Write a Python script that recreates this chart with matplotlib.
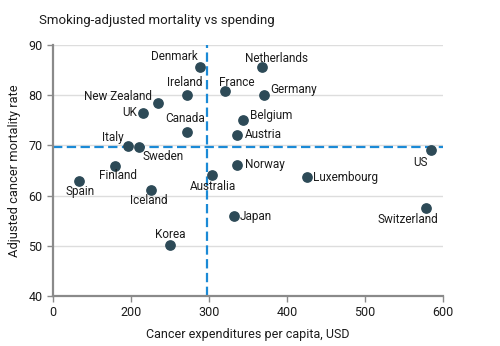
import numpy as np
import matplotlib
matplotlib.use("Agg")
import matplotlib.pyplot as plt

# data
countries = ["Denmark", "Ireland", "New Zealand", "UK", "Canada", "Italy",
             "Sweden", "Finland", "Spain", "Iceland", "Korea", "Australia",
             "Japan", "France", "Netherlands", "Germany", "Belgium", "Austria",
             "Norway", "Luxembourg", "US", "Switzerland"]
spending = [288, 272, 234, 216, 272, 192, 210, 159, 67, 225, 250, 304,
            332, 320, 368, 371, 343, 336, 336, 426, 584, 578]
mortality = [85.7, 80.1, 78.5, 76.5, 72.7, 69.9, 69.6, 65.9, 63.0, 61.2,
             50.1, 64.1, 55.9, 80.8, 85.6, 80.0, 75.1, 72.1, 66.1, 63.7,
             69.0, 57.5]
spend_ref = 297
mort_ref = 69.7
x_ticks = [0, 200, 300, 400, 500, 600]
y_ticks = [40, 50, 60, 70, 80, 90]

# label placement: (dx, dy) in pixels, horizontal alignment
label_pos = {
    "Denmark": (-2, 10, "right"), "Ireland": (-2, 12, "center"),
    "New Zealand": (-6, 6, "right"), "UK": (-6, 0, "right"),
    "Canada": (-2, 13, "center"), "Italy": (-4, 8, "right"),
    "Sweden": (4, -9, "left"), "Finland": (3, -10, "center"),
    "Spain": (1, -11, "center"), "Iceland": (-2, -11, "center"),
    "Korea": (0, 11, "center"), "Australia": (1, -11, "center"),
    "Japan": (6, 0, "left"), "France": (-6, 9, "left"),
    "Netherlands": (-17, 9, "left"), "Germany": (6, 6, "left"),
    "Belgium": (7, 4, "left"), "Austria": (8, 0, "left"),
    "Norway": (8, 0, "left"), "Luxembourg": (6, 0, "left"),
    "US": (-3, -12, "right"), "Switzerland": (12, -11, "right"),
}

plt.rcParams['font.family'] = ['Roboto', 'DejaVu Sans']
text_col = '#1c1c1c'
axis_col = '#8a8a8a'
blue = '#1b8ad6'


def fwd(x):
    # the axis squeezes 0-200 into the width of one 100-step
    x = np.asarray(x, dtype=float)
    return np.where(x < 200, x / 2.0, x - 100.0)


def inv(p):
    p = np.asarray(p, dtype=float)
    return np.where(p < 100, p * 2.0, p + 100.0)


fig = plt.figure(figsize=(5, 3.46), dpi=100)
ax = fig.add_axes([0.106, 0.1445, 0.78, 0.7255])
ax.set_xscale('function', functions=(fwd, inv))
ax.set_xlim(0, 600)
ax.set_ylim(40, 90)
ax.set_xticks(x_ticks)
ax.set_yticks(y_ticks)

for y in y_ticks[1:]:
    ax.axhline(y, color='#dddddd', lw=1, zorder=0)

ax.axvline(spend_ref, color=blue, lw=1.6, ls=(0, (4.2, 2)), zorder=1)
ax.axhline(mort_ref, color=blue, lw=1.6, ls=(0, (4.2, 2)), zorder=1)

ax.scatter(spending, mortality, s=45, color='#2d4a57', zorder=3,
           clip_on=False)

for name, x, y in zip(countries, spending, mortality):
    dx, dy, ha = label_pos[name]
    ax.annotate(name, (x, y), xytext=(dx, dy), textcoords='offset pixels',
                ha=ha, va='center', fontsize=8.5, color=text_col)

for side in ['top', 'right']:
    ax.spines[side].set_visible(False)
for side in ['left', 'bottom']:
    ax.spines[side].set_color(axis_col)
    ax.spines[side].set_linewidth(1.6)
ax.tick_params(colors=axis_col, labelcolor=text_col, labelsize=9,
               length=4, width=1)

ax.set_xlabel('Cancer expenditures per capita, USD', fontsize=9,
              color=text_col, labelpad=6)
ax.set_ylabel('Adjusted cancer mortality rate', fontsize=9.3,
              color=text_col)
ax.yaxis.set_label_coords(-0.082, 0.5)
fig.text(0.078, 0.942, 'Smoking-adjusted mortality vs spending',
         fontsize=9.5, color=text_col, va='center')

fig.savefig('out.png', dpi=100)
